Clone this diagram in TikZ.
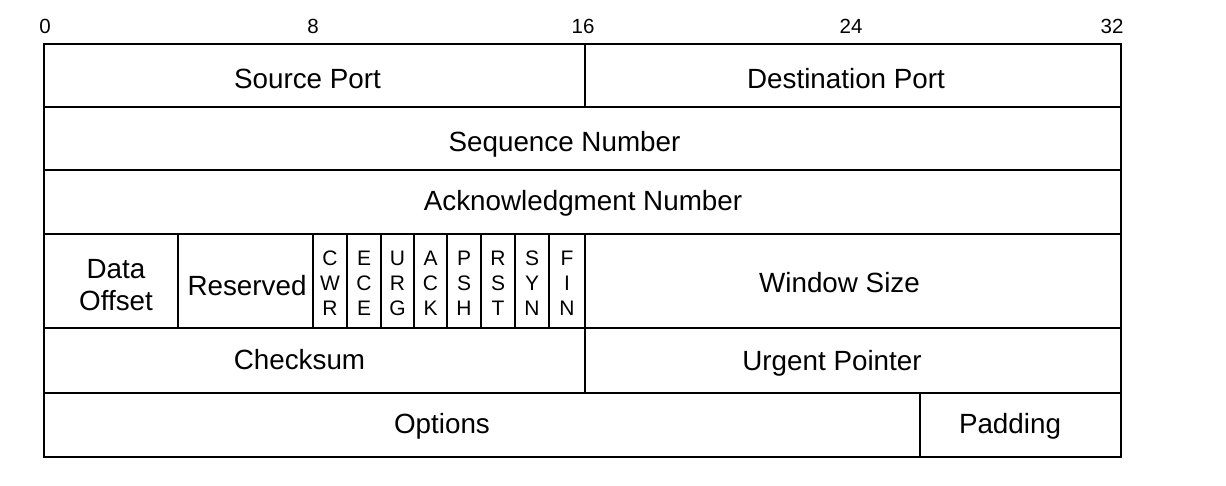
\documentclass[tikz,border=0pt]{standalone}
\usepackage{fontspec}
\setmainfont{Liberation Sans}
\begin{document}
\begin{tikzpicture}[x=1pt,y=-1pt,
  cell/.style={draw=black, line width=1.8pt},
  lbl/.style={inner sep=0pt, font=\fontsize{27.8}{32}\selectfont, align=center},
  bitno/.style={inner sep=0pt, font=\fontsize{20.5}{24}\selectfont},
  flag/.style={inner sep=0pt, font=\fontsize{21}{25}\selectfont, align=center}]
\useasboundingbox (0,0) rectangle (1226,486);

% bit offsets
\node[bitno] (b0)  at (45,26)   {0};
\node[bitno] (b8)  at (313,26)  {8};
\node[bitno] (b16) at (583,26)  {16};
\node[bitno] (b24) at (851,26)  {24};
\node[bitno] (b32) at (1112,26) {32};

% header fields
\draw[cell] (44,44) rectangle (585,107);
\draw[cell] (585,44) rectangle (1121,107);
\draw[cell] (44,107) rectangle (1121,170);
\draw[cell] (44,170) rectangle (1121,234);
\draw[cell] (44,234) rectangle (178,328);
\draw[cell] (178,234) rectangle (313,328);
\foreach \a/\b in {313/347,347/381,381/414,414/447,447/481,481/515,515/549,549/585}
  \draw[cell] (\a,234) rectangle (\b,328);
\draw[cell] (585,234) rectangle (1121,328);
\draw[cell] (44,328) rectangle (585,393);
\draw[cell] (585,328) rectangle (1121,393);
\draw[cell] (44,393) rectangle (920,457);
\draw[cell] (920,393) rectangle (1121,457);

% field names
\node[lbl] (sport) at (307.5,79)  {Source Port};
\node[lbl] (dport) at (846,79)    {Destination Port};
\node[lbl] (seq)   at (564.5,144) {Sequence Number};
\node[lbl] (ack)   at (583,203)   {Acknowledgment Number};
\node[lbl] (doff)  at (116,285)   {Data\\Offset};
\node[lbl] (resv)  at (247,286)   {Reserved};
\node[lbl] (win)   at (839.5,283) {Window Size};
\node[lbl] (csum)  at (299.5,360) {Checksum};
\node[lbl] (urg)   at (832,363)   {Urgent Pointer};
\node[lbl] (opt)   at (442,426)   {Options};
\node[lbl] (pad)   at (1010,426)  {Padding};

% control flags
\node[flag] (fcwr) at (330,283)   {C\\W\\R};
\node[flag] (fece) at (364,283)   {E\\C\\E};
\node[flag] (furg) at (397.5,283) {U\\R\\G};
\node[flag] (fack) at (430.5,283) {A\\C\\K};
\node[flag] (fpsh) at (464,283)   {P\\S\\H};
\node[flag] (frst) at (498,283)   {R\\S\\T};
\node[flag] (fsyn) at (532,283)   {S\\Y\\N};
\node[flag] (ffin) at (567,283)   {F\\I\\N};
\end{tikzpicture}
\end{document}
